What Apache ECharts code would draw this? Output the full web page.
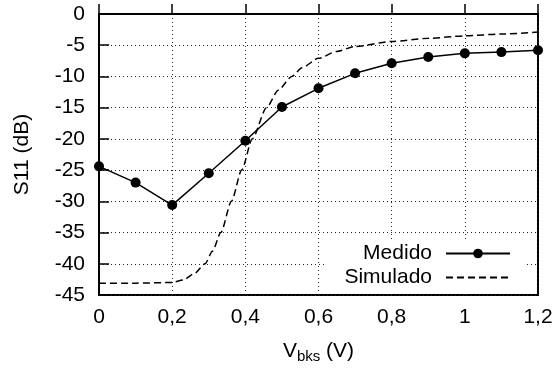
<!DOCTYPE html>
<html>
<head>
<meta charset="utf-8">
<script src="https://cdn.jsdelivr.net/npm/echarts@6/dist/echarts.min.js"></script>
<style>html,body{margin:0;padding:0;background:#fff}#c{width:559px;height:369px}</style>
</head>
<body>
<div id="c"></div>
<script>
// Measured data (Medido)
const measX = [0, 0.1, 0.2, 0.3, 0.4, 0.5, 0.6, 0.7, 0.8, 0.9, 1.0, 1.1, 1.2];
const measY = [-24.4, -27.0, -30.6, -25.5, -20.3, -14.9, -11.9, -9.5, -7.9, -6.9, -6.3, -6.1, -5.8];
// Simulated curve (Simulado)
const simX = [0, 0.1, 0.2, 0.23, 0.26, 0.29, 0.31, 0.333, 0.362, 0.39, 0.419, 0.458, 0.49, 0.527, 0.555, 0.6, 0.65, 0.7, 0.8, 0.9, 1.0, 1.1, 1.2];
const simY = [-43.1, -43.1, -43.0, -42.6, -41.6, -40.0, -38.0, -35.0, -30.0, -25.0, -20.0, -15.0, -12.2, -10.0, -8.6, -7.1, -6.0, -5.2, -4.4, -3.9, -3.5, -3.2, -2.9];
const legendNames = ['Medido', 'Simulado'];
const yName = 'S11 (dB)';

const FONT = 'Liberation Sans, Arial, sans-serif';
const FS = 21;
const chart = echarts.init(document.getElementById('c'), null, {renderer: 'canvas'});
const fmtX = v => String(+v.toFixed(1)).replace('.', ',');
chart.setOption({
  animation: false,
  textStyle: {fontFamily: FONT},
  grid: {left: 99, right: 21, top: 14, bottom: 73, show: true, borderColor: '#000', borderWidth: 2, containLabel: false},
  legend: {
    orient: 'vertical', align: 'right', right: 35, top: 241,
    backgroundColor: '#fff', padding: [2, 13, 3, 18],
    itemWidth: 64, itemHeight: 12, itemGap: 3,
    textStyle: {fontSize: FS, color: '#000', fontFamily: FONT, padding: [0, 9, 0, 0]},
    data: [
      {name: legendNames[0]},
      {name: legendNames[1], itemStyle: {color: 'rgba(0,0,0,0)', borderWidth: 0}}
    ]
  },
  xAxis: {
    type: 'value', min: 0, max: 1.2, interval: 0.2,
    name: '{v|V}{s|bks}{v| (V)}', nameLocation: 'middle', nameGap: 44,
    nameTextStyle: {rich: {v: {fontSize: FS, fontFamily: FONT, color: '#000'}, s: {fontSize: 15, fontFamily: FONT, color: '#000', padding: [10, 0, 0, 0]}}},
    axisLine: {show: true, lineStyle: {color: '#000', width: 2}},
    axisTick: {show: true, inside: true, length: 10, lineStyle: {color: '#000', width: 1.5}},
    axisLabel: {fontSize: FS, color: '#000', margin: 12, formatter: fmtX},
    splitLine: {show: true, lineStyle: {color: '#222', width: 1, type: [1, 3]}}
  },
  yAxis: {
    type: 'value', min: -45, max: 0, interval: 5,
    name: yName, nameLocation: 'middle', nameGap: 66,
    nameTextStyle: {fontSize: FS, color: '#000', fontFamily: FONT},
    axisLine: {show: true, lineStyle: {color: '#000', width: 2}},
    axisTick: {show: true, inside: true, length: 10, lineStyle: {color: '#000', width: 1.5}},
    axisLabel: {fontSize: FS, color: '#000', margin: 14},
    splitLine: {show: true, lineStyle: {color: '#222', width: 1, type: [1, 3]}}
  },
  series: [
    {
      name: legendNames[0], type: 'line',
      data: measX.map((x, i) => [x, measY[i]]),
      symbol: 'circle', symbolSize: 10,
      itemStyle: {color: '#000'},
      lineStyle: {color: '#000', width: 1.5},
      z: 3
    },
    {
      name: legendNames[1], type: 'line',
      data: simX.map((x, i) => [x, simY[i]]),
      symbol: 'none', smooth: 0.25, smoothMonotone: 'x',
      itemStyle: {color: '#000'},
      lineStyle: {color: '#000', width: 1.5, type: [7, 4]},
      z: 2
    }
  ]
});
</script>
</body>
</html>
